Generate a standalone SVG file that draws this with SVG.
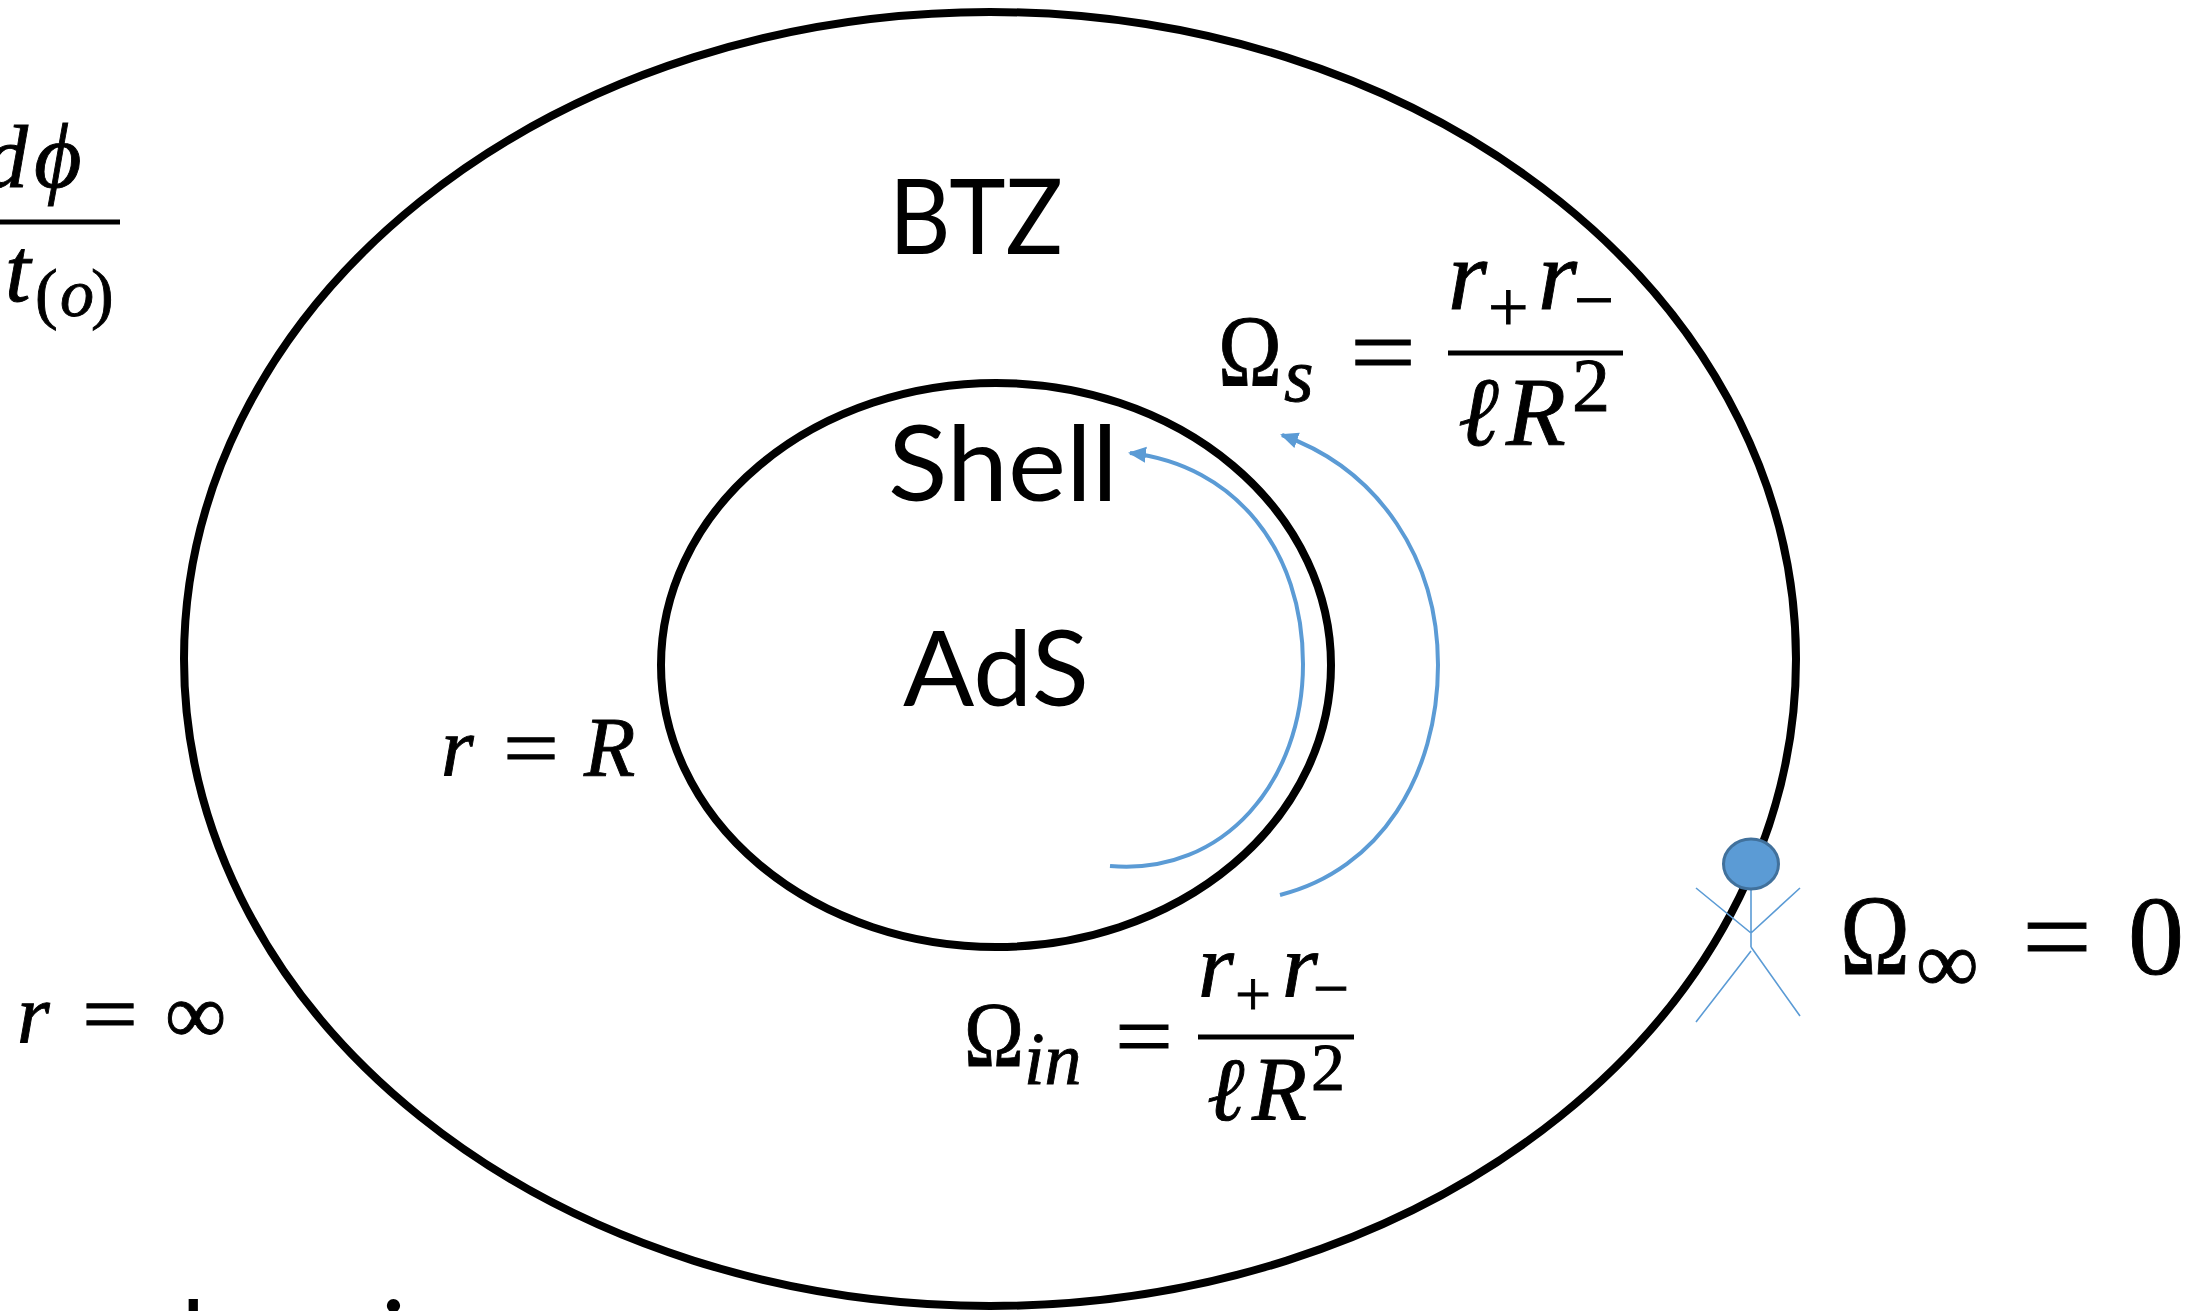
<svg xmlns="http://www.w3.org/2000/svg" width="2200" height="1311" viewBox="0 0 2200 1311">
<defs>
<marker id="ah" markerUnits="userSpaceOnUse" markerWidth="20" markerHeight="18" refX="16" refY="8" orient="auto"><path d="M0 0L18 8L0 16Z" fill="#5b9bd5"/></marker>
</defs>
<style>
.ring{fill:none;stroke:#000;stroke-width:8}
.arc{fill:none;stroke:#5b9bd5;stroke-width:4;marker-end:url(#ah)}
.fig{stroke:#5b9bd5;stroke-width:1.6;fill:none}
.lab{font-family:Lato,"Liberation Sans",sans-serif;fill:#000;font-size:104px}
.m{font-family:"Liberation Serif","DejaVu Serif",serif;fill:#000;stroke:#000;stroke-width:.9}
.i{font-style:italic}
.bar{stroke:#000;stroke-width:5}
</style>
<rect width="2200" height="1311" fill="#fff"/>
<g id="btz"><ellipse class="ring" cx="990" cy="659" rx="806" ry="647"/><text class="lab" x="889" y="254" textLength="174" lengthAdjust="spacingAndGlyphs">BTZ</text></g>
<g id="shell"><ellipse class="ring" cx="996" cy="665" rx="335" ry="282"/><text class="lab" x="888" y="501" textLength="230" lengthAdjust="spacingAndGlyphs">Shell</text></g>
<g id="ads"><text class="lab" x="903" y="706" textLength="186" lengthAdjust="spacingAndGlyphs">AdS</text></g>
<g id="connectors">
<path class="arc" d="M1110 866C1225 876 1303 780 1303 664C1303 550 1235 465 1130 453"/>
<path class="arc" d="M1280 895C1380 870 1438 775 1438 665C1438 560 1380 470 1282 435"/>
</g>
<g id="observer">
<path class="fig" d="M1751 888V947M1696 888L1751 933L1800 888M1751 951L1696 1022M1751 947L1800 1016"/>
<ellipse cx="1751" cy="864" rx="27.500" ry="25" fill="#5b9bd5" stroke="#41719c" stroke-width="3"/>
</g>
<g id="omega-infinity" class="m"><text x="1840" y="974" font-size="114" textLength="70" lengthAdjust="spacingAndGlyphs">Ω</text><text x="1916" y="992" font-size="88">∞</text><text x="2022" y="974" font-size="112" textLength="70" lengthAdjust="spacingAndGlyphs">=</text><text x="2128" y="974" font-size="112">0</text></g>
<g id="omega-s" class="m"><text x="1218" y="386" font-size="102" textLength="64" lengthAdjust="spacingAndGlyphs">Ω</text><text class="i" x="1284" y="401" font-size="76">s</text><text x="1350" y="386" font-size="100" textLength="66" lengthAdjust="spacingAndGlyphs">=</text>
<text class="i" x="1448" y="309" font-size="100">r</text><text x="1488" y="331" font-size="72">+</text><text class="i" x="1538" y="309" font-size="100">r</text><text x="1574" y="324" font-size="72" textLength="40" lengthAdjust="spacingAndGlyphs">−</text>
<line class="bar" x1="1448" y1="353" x2="1623" y2="353"/>
<text class="i" x="1458" y="445" font-size="98">ℓ</text><text class="i" x="1506" y="445" font-size="98">R</text><text x="1572" y="411" font-size="76">2</text></g>
<g id="omega-in" class="m"><text x="964" y="1066" font-size="94" textLength="60" lengthAdjust="spacingAndGlyphs">Ω</text><text class="i" x="1024" y="1084" font-size="74">in</text><text x="1115" y="1067" font-size="92" textLength="58" lengthAdjust="spacingAndGlyphs">=</text>
<text class="i" x="1198" y="996" font-size="92">r</text><text x="1235" y="1016" font-size="64">+</text><text class="i" x="1282" y="996" font-size="92">r</text><text x="1313" y="1010" font-size="64" textLength="36" lengthAdjust="spacingAndGlyphs">−</text>
<line class="bar" x1="1198" y1="1037" x2="1354" y2="1037"/>
<text class="i" x="1207" y="1120" font-size="90">ℓ</text><text class="i" x="1252" y="1120" font-size="90">R</text><text x="1311" y="1090" font-size="68">2</text></g>
<g id="r-eq-R" class="m"><text class="i" x="441" y="776" font-size="84">r</text><text x="503" y="777" font-size="84" textLength="56" lengthAdjust="spacingAndGlyphs">=</text><text class="i" x="584" y="776" font-size="84">R</text></g>
<g id="r-eq-inf" class="m"><text class="i" x="17" y="1043" font-size="84">r</text><text x="82" y="1043" font-size="84" textLength="56" lengthAdjust="spacingAndGlyphs">=</text><text x="165" y="1043" font-size="86">∞</text></g>
<g id="fraction" class="m"><text class="i" x="-16" y="187" font-size="88">d</text><text class="i" x="34" y="187" font-size="92">ϕ</text><line class="bar" x1="0" y1="222" x2="120" y2="222"/><text class="i" x="5" y="301" font-size="92">t</text><text x="35" y="316" font-size="68">(</text><text class="i" x="60" y="316" font-size="68">o</text><text x="91" y="316" font-size="68">)</text></g>
<g id="cut-text" class="lab"><text x="181" y="1376">l</text><text x="381" y="1376">i</text></g>
</svg>
